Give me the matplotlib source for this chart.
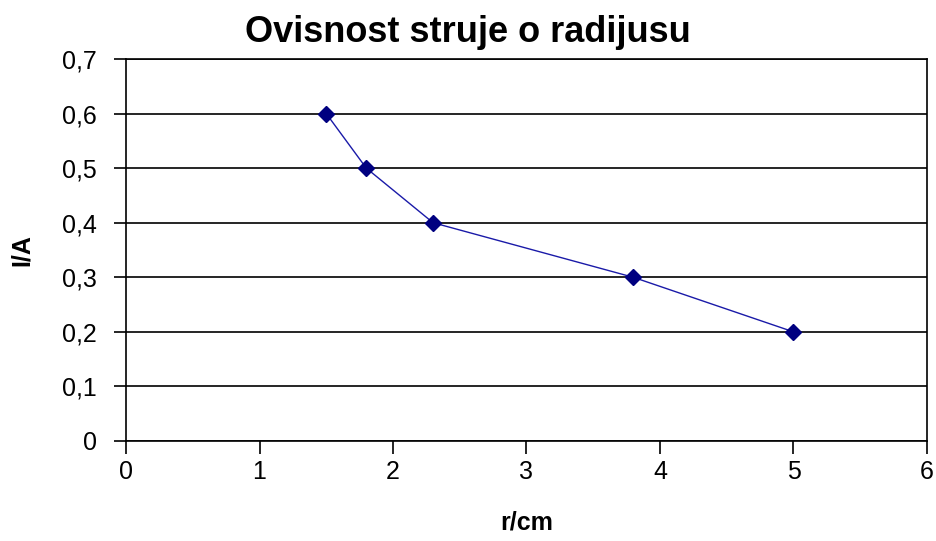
import matplotlib
matplotlib.use("Agg")
import matplotlib.pyplot as plt
from matplotlib.ticker import FuncFormatter

r_cm = [1.5, 1.8, 2.3, 3.8, 5.0]
i_a = [0.6, 0.5, 0.4, 0.3, 0.2]
x_ticks = [0, 1, 2, 3, 4, 5, 6]
y_ticks = [0, 0.1, 0.2, 0.3, 0.4, 0.5, 0.6, 0.7]

plt.rcParams['font.family'] = ['Liberation Sans', 'DejaVu Sans']

fig = plt.figure(figsize=(9.36, 5.41), dpi=100)
ax = fig.add_axes([126/936, 1-441/541, (927-126)/936, (441-59)/541])

ax.plot(r_cm, i_a, color='#1a1aa8', linewidth=1.0, marker='D', markersize=8,
        markerfacecolor='#000080', markeredgecolor='#000080', zorder=3)

ax.set_xlim(0, 6)
ax.set_ylim(0, 0.7)
ax.set_xticks(x_ticks)
ax.set_yticks(y_ticks)
ax.yaxis.set_major_formatter(FuncFormatter(lambda v, p: ('%g' % round(v, 1)).replace('.', ',')))
ax.grid(axis='y', color='black', linewidth=1.2)
ax.set_axisbelow(True)
for s in ax.spines.values():
    s.set_color('black')
    s.set_linewidth(1.2)
ax.tick_params(direction='out', length=9, width=1.2, labelsize=18, colors='black', pad=12)
ax.tick_params(axis='x', pad=5)

fig.text(0.5, 1-32/541, 'Ovisnost struje o radijusu', ha='center', va='center',
         fontsize=26, fontweight='bold')
ax.set_xlabel('r/cm', fontsize=18, fontweight='bold', va='center')
ax.set_ylabel('I/A', fontsize=18, fontweight='bold', va='center')
ax.xaxis.set_label_coords(0.5, (441-523)/382)
ax.yaxis.set_label_coords((22-126)/801, 0.5)

fig.savefig('out.png', dpi=100)
